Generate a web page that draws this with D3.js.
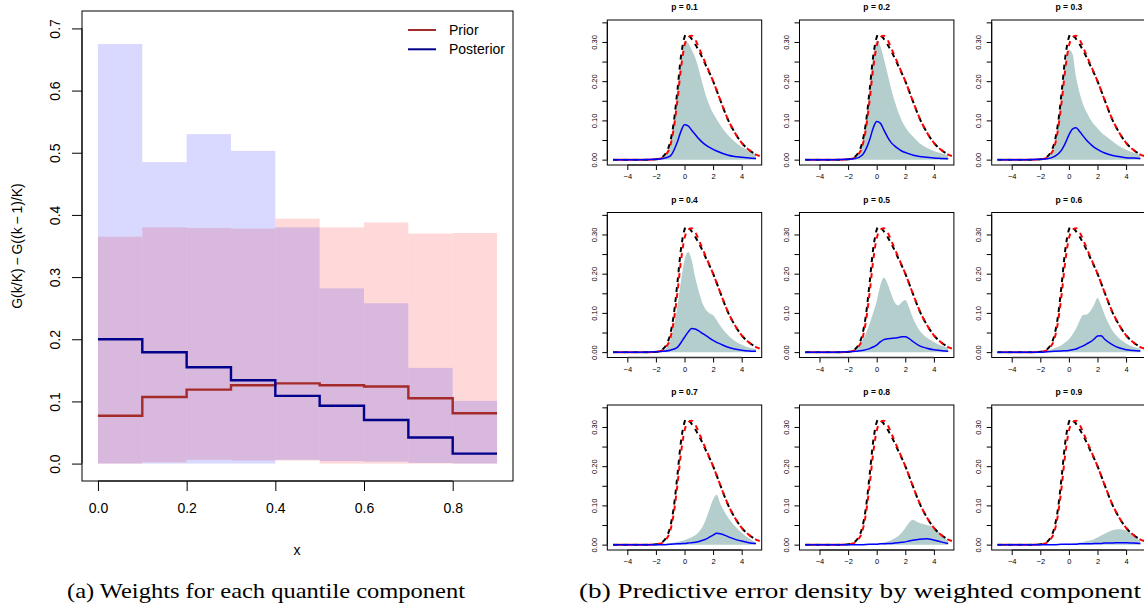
<!DOCTYPE html>
<html>
<head>
<meta charset="utf-8">
<script src="https://cdn.jsdelivr.net/npm/d3@7"></script>
<style>
  body { margin: 0; background: #fff; }
  text { font-family: "Liberation Sans", Arial, sans-serif; }
</style>
</head>
<body>
<div class="chart"></div>
<script>
// ---- left panel data: weights per quantile bin ----
const binStart = [0, 0.1, 0.2, 0.3, 0.4, 0.5, 0.6, 0.7, 0.8];
const priorMean = [0.077, 0.107, 0.119, 0.126, 0.129, 0.126, 0.124, 0.105, 0.081];
const postMean = [0.200, 0.179, 0.155, 0.134, 0.109, 0.093, 0.070, 0.042, 0.016];
const priorLow = [0.000, 0.002, 0.006, 0.005, 0.005, 0.000, 0.000, 0.000, 0.000];
const priorHigh = [0.365, 0.380, 0.379, 0.378, 0.394, 0.380, 0.388, 0.370, 0.371];
const postLow = [0.000, 0.000, 0.000, 0.000, 0.006, 0.004, 0.003, 0.001, 0.000];
const postHigh = [0.675, 0.485, 0.530, 0.503, 0.380, 0.282, 0.258, 0.154, 0.101];
const leftXTicks = [0, 0.2, 0.4, 0.6, 0.8];
const leftYTicks = [0, 0.1, 0.2, 0.3, 0.4, 0.5, 0.6, 0.7];

// ---- right panels data: densities ----
const trueX = [-5, -3, -2.5, -2, -1.75, -1.5, -1.25, -1, -0.75, -0.5, -0.25, 0, 0.1, 0.25, 0.5, 0.75, 1, 1.5, 2, 2.5, 3, 3.5, 4, 4.5, 5];
const trueY = [0, 0, 0, 0.001, 0.003, 0.008, 0.02, 0.045, 0.095, 0.175, 0.262, 0.312, 0.32, 0.318, 0.308, 0.294, 0.278, 0.24, 0.2, 0.152, 0.105, 0.07, 0.043, 0.025, 0.013];
const predX = [-5, -3, -2.5, -2, -1.75, -1.5, -1.25, -1, -0.75, -0.5, -0.25, 0, 0.25, 0.5, 0.75, 1, 1.5, 2, 2.5, 3, 3.5, 4, 4.5, 5, 5.4];
const predY = [0, 0, 0, 0.001, 0.002, 0.006, 0.015, 0.035, 0.08, 0.15, 0.232, 0.29, 0.312, 0.316, 0.306, 0.286, 0.243, 0.2, 0.152, 0.106, 0.07, 0.043, 0.025, 0.013, 0.008];

const gridX = [-5, -3, -2, -1.5, -1, -0.5, -0.25, 0, 0.25, 0.5, 0.75, 1, 1.25, 1.5, 1.75, 2, 2.25, 2.5, 3, 3.5, 4, 4.5, 5];
const pLabels = ["p = 0.1", "p = 0.2", "p = 0.3", "p = 0.4", "p = 0.5", "p = 0.6", "p = 0.7", "p = 0.8", "p = 0.9"];
const bandY = [
  [0, 0, 0.001, 0.006, 0.04, 0.17, 0.25, 0.302, 0.298, 0.28, 0.26, 0.23, 0.195, 0.163, 0.138, 0.118, 0.103, 0.088, 0.064, 0.046, 0.032, 0.022, 0.014],
  [0, 0, 0.001, 0.006, 0.04, 0.18, 0.265, 0.303, 0.29, 0.258, 0.22, 0.182, 0.15, 0.122, 0.1, 0.083, 0.07, 0.06, 0.042, 0.03, 0.022, 0.016, 0.011],
  [0, 0, 0.001, 0.005, 0.035, 0.16, 0.24, 0.28, 0.27, 0.21, 0.17, 0.14, 0.12, 0.103, 0.09, 0.08, 0.07, 0.062, 0.048, 0.035, 0.025, 0.018, 0.012],
  [0, 0, 0.001, 0.004, 0.03, 0.115, 0.18, 0.235, 0.255, 0.235, 0.19, 0.155, 0.125, 0.108, 0.099, 0.094, 0.082, 0.067, 0.045, 0.029, 0.019, 0.012, 0.008],
  [0, 0, 0.001, 0.006, 0.03, 0.072, 0.1, 0.13, 0.17, 0.19, 0.175, 0.15, 0.127, 0.119, 0.127, 0.133, 0.115, 0.09, 0.055, 0.037, 0.026, 0.017, 0.011],
  [0, 0, 0.001, 0.004, 0.01, 0.018, 0.025, 0.033, 0.045, 0.06, 0.08, 0.095, 0.096, 0.105, 0.12, 0.138, 0.12, 0.095, 0.058, 0.036, 0.022, 0.014, 0.009],
  [0, 0, 0.001, 0.002, 0.004, 0.007, 0.009, 0.011, 0.015, 0.019, 0.024, 0.032, 0.045, 0.065, 0.09, 0.115, 0.127, 0.105, 0.072, 0.048, 0.03, 0.016, 0.005],
  [0, 0, 0, 0.001, 0.002, 0.002, 0.003, 0.003, 0.004, 0.006, 0.008, 0.011, 0.016, 0.022, 0.031, 0.042, 0.055, 0.063, 0.055, 0.05, 0.044, 0.026, 0.008],
  [0, 0, 0, 0, 0.001, 0.001, 0.002, 0.002, 0.003, 0.004, 0.005, 0.007, 0.009, 0.011, 0.014, 0.018, 0.023, 0.028, 0.036, 0.039, 0.036, 0.025, 0.008]
];
const compY = [
  [0, 0, 0.001, 0.003, 0.009, 0.045, 0.072, 0.089, 0.086, 0.075, 0.064, 0.053, 0.044, 0.037, 0.031, 0.026, 0.022, 0.018, 0.012, 0.008, 0.006, 0.004, 0.003],
  [0, 0, 0.001, 0.003, 0.012, 0.05, 0.08, 0.097, 0.093, 0.076, 0.058, 0.044, 0.035, 0.028, 0.022, 0.018, 0.015, 0.012, 0.008, 0.006, 0.004, 0.003, 0.002],
  [0, 0, 0.001, 0.002, 0.008, 0.025, 0.042, 0.063, 0.078, 0.081, 0.072, 0.06, 0.049, 0.04, 0.032, 0.026, 0.021, 0.017, 0.011, 0.008, 0.005, 0.004, 0.003],
  [0, 0, 0.001, 0.002, 0.005, 0.012, 0.024, 0.038, 0.051, 0.06, 0.059, 0.054, 0.048, 0.042, 0.036, 0.03, 0.025, 0.021, 0.013, 0.008, 0.005, 0.003, 0.002],
  [0, 0, 0.001, 0.002, 0.004, 0.009, 0.013, 0.018, 0.026, 0.032, 0.034, 0.035, 0.036, 0.037, 0.039, 0.039, 0.035, 0.028, 0.016, 0.01, 0.006, 0.004, 0.002],
  [0, 0, 0, 0.001, 0.002, 0.003, 0.0035, 0.004, 0.006, 0.008, 0.012, 0.016, 0.021, 0.026, 0.033, 0.041, 0.042, 0.033, 0.02, 0.011, 0.006, 0.004, 0.003],
  [0, 0, 0, 0, 0.001, 0.002, 0.0025, 0.003, 0.004, 0.005, 0.006, 0.008, 0.011, 0.014, 0.019, 0.024, 0.029, 0.028, 0.021, 0.014, 0.009, 0.005, 0.003],
  [0, 0, 0, 0, 0, 0.001, 0.001, 0.001, 0.002, 0.002, 0.003, 0.003, 0.004, 0.005, 0.006, 0.007, 0.009, 0.011, 0.014, 0.015, 0.012, 0.007, 0.003],
  [0, 0, 0, 0, 0, 0.001, 0.001, 0.001, 0.001, 0.001, 0.002, 0.002, 0.002, 0.002, 0.003, 0.003, 0.003, 0.004, 0.004, 0.005, 0.005, 0.004, 0.003]
];
const smallXTicks = [-4, -2, 0, 2, 4];
const smallYTicks = [0, 0.05, 0.1, 0.15, 0.2, 0.25, 0.3, 0.35];
const smallYLabels = [0, 0.1, 0.2, 0.3];

const svg = d3.select(".chart").append("svg")
  .attr("width", 1144).attr("height", 604);

const minus = (s) => s.replace("-", "\u2212");

// ================= left panel =================
const lx = d3.scaleLinear().domain([-0.036, 0.936]).range([82, 513]);
const ly = d3.scaleLinear().domain([-0.028, 0.728]).range([481, 11]);
const left = svg.append("g");

//prior band then posterior band
left.selectAll("rect.prior").data(binStart).enter().append("rect")
  .attr("x", (d) => lx(d)).attr("width", (d) => lx(d + 0.1) - lx(d))
  .attr("y", (d, i) => ly(priorHigh[i]))
  .attr("height", (d, i) => ly(priorLow[i]) - ly(priorHigh[i]))
  .attr("fill", "rgb(255,0,0)").attr("fill-opacity", 0.15);
left.selectAll("rect.post").data(binStart).enter().append("rect")
  .attr("x", (d) => lx(d)).attr("width", (d) => lx(d + 0.1) - lx(d))
  .attr("y", (d, i) => ly(postHigh[i]))
  .attr("height", (d, i) => ly(postLow[i]) - ly(postHigh[i]))
  .attr("fill", "rgb(0,0,255)").attr("fill-opacity", 0.15);

//step lines
const stepLine = d3.line().x((d) => lx(d[0])).y((d) => ly(d[1])).curve(d3.curveStepAfter);
const stepPts = (vals) => binStart.map((b, i) => [b, vals[i]]).concat([[0.9, vals[vals.length - 1]]]);
left.append("path").attr("d", stepLine(stepPts(priorMean)))
  .attr("fill", "none").attr("stroke", "#a52a2a").attr("stroke-width", 2.4);
left.append("path").attr("d", stepLine(stepPts(postMean)))
  .attr("fill", "none").attr("stroke", "#00008b").attr("stroke-width", 2.4);

//box and axes
left.append("rect").attr("x", 82).attr("y", 11).attr("width", 431).attr("height", 470)
  .attr("fill", "none").attr("stroke", "#000").attr("stroke-width", 1);
const lxAxis = left.append("g").attr("transform", "translate(0,481)")
  .call(d3.axisBottom(lx).tickValues(leftXTicks).tickFormat(d3.format(".1f")).tickSize(10).tickPadding(12));
const lyAxis = left.append("g").attr("transform", "translate(82,0)")
  .call(d3.axisLeft(ly).tickValues(leftYTicks).tickFormat(d3.format(".1f")).tickSize(10));
[lxAxis, lyAxis].forEach((a) => {
  a.select(".domain").remove();
  a.selectAll("line").attr("stroke", "#000");
  a.selectAll("text").attr("font-size", 14).attr("fill", "#000")
    .style("font-family", "Liberation Sans, Arial, sans-serif");
});
lxAxis.append("line").attr("x1", lx(0)).attr("x2", lx(0.8)).attr("stroke", "#000");
lyAxis.append("line").attr("y1", ly(0)).attr("y2", ly(0.7)).attr("stroke", "#000");
//rotated y tick labels, R style
lyAxis.selectAll(".tick text")
  .attr("x", 0).attr("y", 0).attr("dy", "0.35em")
  .attr("text-anchor", "middle")
  .attr("transform", "translate(-27,0) rotate(-90)");

left.append("text").attr("x", 297).attr("y", 555).attr("text-anchor", "middle")
  .attr("font-size", 14).text("x");
left.append("text").attr("transform", "translate(22,246) rotate(-90)")
  .attr("text-anchor", "middle").attr("font-size", 14)
  .text("G(k/K)\u2009\u2212\u2009G((k\u2009\u2212\u20091)/K)");

//legend
const legendItems = [["Prior", "#a52a2a"], ["Posterior", "#00008b"]];
legendItems.forEach((d, i) => {
  left.append("line").attr("x1", 408).attr("x2", 436)
    .attr("y1", 30 + i * 19.3).attr("y2", 30 + i * 19.3)
    .attr("stroke", d[1]).attr("stroke-width", 2);
  left.append("text").attr("x", 449).attr("y", 30 + i * 19.3).attr("dy", "0.35em")
    .attr("font-size", 14).text(d[0]);
});

// ================= right panels =================
pLabels.forEach((label, k) => {
  const c = k % 3, r = Math.floor(k / 3);
  const x0 = 607.3 + c * 192.2, w = 154.4;
  const y0 = 20 + r * 192.5, h = 145;
  const sx = d3.scaleLinear().domain([-5.4, 5.4]).range([x0, x0 + w]);
  const sy = d3.scaleLinear().domain([-0.0137, 0.356]).range([y0 + h, y0]);
  const g = svg.append("g");
  const clipId = "clip" + k;
  g.append("clipPath").attr("id", clipId).append("rect")
    .attr("x", x0).attr("y", y0).attr("width", w).attr("height", h);
  const plot = g.append("g").attr("clip-path", `url(#${clipId})`);

  const area = d3.area().x((d) => sx(d[0])).y0(sy(0)).y1((d) => sy(d[1])).curve(d3.curveMonotoneX);
  const line = d3.line().x((d) => sx(d[0])).y((d) => sy(d[1])).curve(d3.curveMonotoneX);

  plot.append("path").attr("d", area(gridX.map((x, i) => [x, bandY[k][i]])))
    .attr("fill", "#b4cdcd");
  plot.append("path").attr("d", line(trueX.map((x, i) => [x, trueY[i]])))
    .attr("fill", "none").attr("stroke", "#000").attr("stroke-width", 2)
    .attr("stroke-dasharray", "5,5");
  plot.append("path").attr("d", line(predX.map((x, i) => [x, predY[i]])))
    .attr("fill", "none").attr("stroke", "#ff0000").attr("stroke-width", 2)
    .attr("stroke-dasharray", "5,5").attr("stroke-dashoffset", 5);
  plot.append("path").attr("d", line(gridX.map((x, i) => [x, compY[k][i]])))
    .attr("fill", "none").attr("stroke", "#0000ff").attr("stroke-width", 1.5);

  g.append("rect").attr("x", x0).attr("y", y0).attr("width", w).attr("height", h)
    .attr("fill", "none").attr("stroke", "#000").attr("stroke-width", 1);

  const xa = g.append("g").attr("transform", `translate(0,${y0 + h})`)
    .call(d3.axisBottom(sx).tickValues(smallXTicks).tickFormat((d) => minus(String(d))).tickSize(5).tickPadding(4));
  const ya = g.append("g").attr("transform", `translate(${x0},0)`)
    .call(d3.axisLeft(sy).tickValues(smallYTicks)
      .tickFormat((d) => smallYLabels.some((v) => Math.abs(v - d) < 1e-9) ? d3.format(".2f")(d) : "")
      .tickSize(5));
  [xa, ya].forEach((a) => {
    a.select(".domain").remove();
    a.selectAll("line").attr("stroke", "#000");
    a.selectAll("text").attr("font-size", 7.5).attr("fill", "#000")
      .style("font-family", "Liberation Sans, Arial, sans-serif");
  });
  xa.append("line").attr("x1", sx(-4)).attr("x2", sx(4)).attr("stroke", "#333").attr("stroke-width", 1.5);
  ya.append("line").attr("y1", sy(0)).attr("y2", sy(0.35)).attr("stroke", "#000");
  ya.selectAll(".tick text")
    .attr("x", 0).attr("y", 0).attr("dy", "0.35em").attr("text-anchor", "middle")
    .attr("transform", "translate(-13,0) rotate(-90)");

  g.append("text").attr("x", x0 + w / 2).attr("y", y0 - 10)
    .attr("text-anchor", "middle").attr("font-size", 8.5).attr("font-weight", "bold")
    .text(label);
});

// ================= captions =================
svg.append("text").attr("x", 67).attr("y", 598)
  .attr("textLength", 398).attr("lengthAdjust", "spacingAndGlyphs")
  .style("font-family", "Liberation Serif, Times New Roman, serif").attr("font-size", 22)
  .text("(a) Weights for each quantile component");
svg.append("text").attr("x", 579).attr("y", 598)
  .attr("textLength", 562).attr("lengthAdjust", "spacingAndGlyphs")
  .style("font-family", "Liberation Serif, Times New Roman, serif").attr("font-size", 22)
  .text("(b) Predictive error density by weighted component");
</script>
</body>
</html>
